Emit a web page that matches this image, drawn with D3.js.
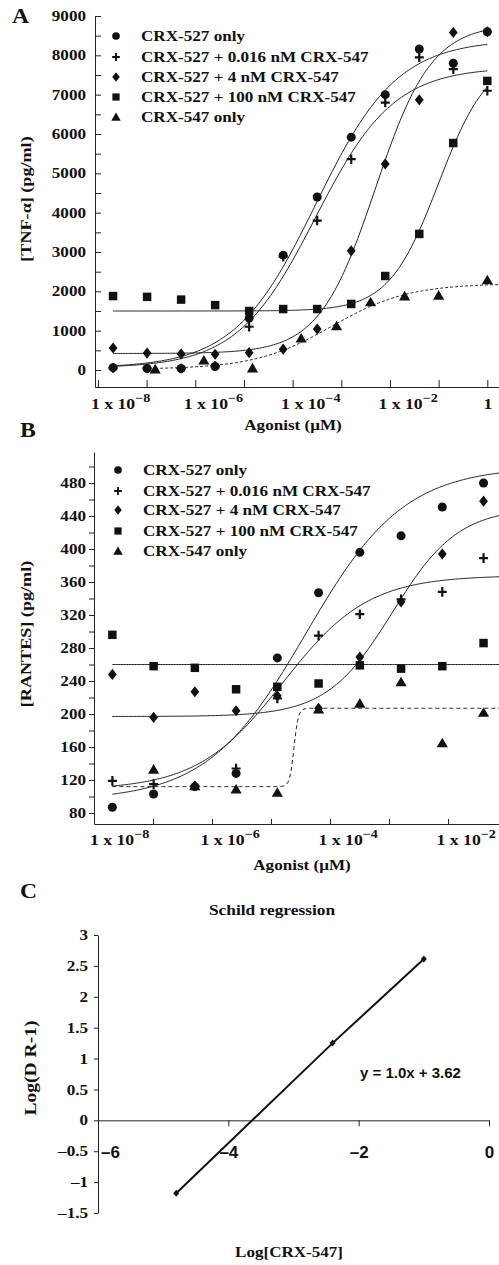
<!DOCTYPE html>
<html>
<head>
<meta charset="utf-8">
<script src="https://cdn.jsdelivr.net/npm/d3@7"></script>
<style>
  body { margin: 0; background: #fff; }
  svg { display: block; }
  text { font-family: "Liberation Serif", "Times New Roman", serif; font-weight: bold; fill: #111; }
  text.sans { font-family: "Liberation Sans", Arial, sans-serif; }
  .axis path, .axis line { stroke: #222; stroke-width: 1; }
  .fit { fill: none; stroke: #222; stroke-width: 1; }
</style>
</head>
<body>
<svg id="fig" width="499" height="1265"></svg>
<script>
// ---- shared legend ----
const legendLabels = ['CRX-527 only', 'CRX-527 + 0.016 nM CRX-547', 'CRX-527 + 4 nM CRX-547',
  'CRX-527 + 100 nM CRX-547', 'CRX-547 only'];
const markerTypes = ['circle', 'plus', 'diamond', 'square', 'triangle'];

// ---- panel A: TNF-alpha (pg/ml) vs agonist (uM) ----
const concA = [2.048e-8, 1.024e-7, 5.12e-7, 2.56e-6, 1.28e-5, 6.4e-5, 3.2e-4, 1.6e-3, 8e-3, 0.04, 0.2, 1];
const tnf527 = [60, 40, 40, 90, 1320, 2920, 4400, 5920, 7000, 8160, 7800, 8600];
const tnf016 = [50, 40, 40, 100, 1100, 2880, 3800, 5360, 6800, 7950, 7650, 7100];
const tnf4 = [560, 430, 410, 400, 440, 530, 1040, 3030, 5240, 6870, 8580, 8600];
const tnf100 = [1880, 1860, 1790, 1650, 1500, 1550, 1550, 1680, 2390, 3460, 5770, 7350];
const conc547A = [1.5e-7, 1.5e-6, 1.5e-5, 1.5e-4, 8e-4, 4e-3, 0.02, 0.1, 1];
const tnf547 = [25, 250, 50, 810, 1120, 1730, 1880, 1900, 2290];
// fitted curves as drawn: [bottom, top, logEC50, hill]
const tnfFits = [[50, 8400, -3.52, 0.52], [50, 7700, -3.53, 0.54], [420, 8800, -2.3, 0.75],
  [1500, 8000, -1.0, 0.85], [20, 2200, -3.2, 0.55]];
const tnfTicks = [0, 1000, 2000, 3000, 4000, 5000, 6000, 7000, 8000, 9000];

// ---- panel B: RANTES (pg/ml) vs agonist (uM) ----
const concB = [2.048e-8, 1.024e-7, 5.12e-7, 2.56e-6, 1.28e-5, 6.4e-5, 3.2e-4, 1.6e-3, 8e-3, 0.04];
const rantes527 = [87, 103, 112, 128, 268, 347, 396, 416, 451, 480];
const rantes016 = [119, 115, 113, 134, 219, 295, 321, 339, 348, 389];
const rantes4 = [248, 196, 227, 204, 222, 207, 269, 336, 394, 458];
const rantes100 = [296, 258, 256, 230, 233, 237, 259, 255, 258, 286];
const conc547B = [1.024e-7, 5.12e-7, 2.56e-6, 1.28e-5, 6.4e-5, 3.2e-4, 1.6e-3, 8e-3, 0.04];
const rantes547 = [133, 113, 109, 105, 206, 213, 239, 165, 202];
const rantesFits = [[95, 500, -4.41, 0.52], [108, 368, -4.8, 0.6], [197, 450, -2.94, 0.78],
  [260, 260, -4, 1], [112, 207, -4.61, 12]];
const rantesTicks = [80, 120, 160, 200, 240, 280, 320, 360, 400, 440, 480];

// ---- panel C: Schild regression ----
const schildX = [-4.8, -2.4, -1.0];
const schildY = [-1.18, 1.25, 2.61];
const schildYTicks = [-1.5, -1, -0.5, 0, 0.5, 1, 1.5, 2, 2.5, 3];
const schildXTicks = [-6, -4, -2, 0];

const SX = 1.18; // the serif lettering in the figure is set wide
const svg = d3.select('#fig');

const markerPath = {
  circle: d3.symbol(d3.symbolCircle, 64)(),
  square: d3.symbol(d3.symbolSquare, 72)(),
  diamond: 'M0,-5.6L4.4,0L0,5.6L-4.4,0Z',
  triangle: 'M0,-5.2L5.6,4.4L-5.6,4.4Z',
  plus: 'M-4.5,0H4.5M0,-4.8V4.8'
};

function marker(g, type, x, y, k) {
  return g.append('path')
    .attr('transform', `translate(${x},${y}) scale(${k || 1})`)
    .attr('d', markerPath[type])
    .attr('fill', type === 'plus' ? 'none' : '#111')
    .attr('stroke', type === 'plus' ? '#111' : 'none')
    .attr('stroke-width', 2.2);
}

function drawSeries(g, type, xs, ys, x, y) {
  xs.forEach((c, i) => marker(g, type, x(c), y(ys[i])));
}

function fitPath(x, y, p, c0, c1) {
  const [bot, top, logEC, hill] = p;
  const lo = Math.log10(c0), hi = Math.log10(c1);
  const pts = d3.range(0, 241).map(i => {
    const l = lo + (hi - lo) * i / 240;
    return [x(10 ** l), y(bot + (top - bot) / (1 + 10 ** (hill * (logEC - l))))];
  });
  return d3.line()(pts);
}

function label(txt, x, y, opts = {}) {
  const t = svg.append('text')
    .attr('transform', `translate(${x},${y})` + (opts.rot ? ` rotate(${opts.rot})` : '') +
      (opts.sans ? '' : ` scale(${opts.sx || SX},1)`))
    .attr('font-size', opts.size || 14.5)
    .attr('text-anchor', opts.anchor || 'start')
    .text(txt);
  if (opts.sans) t.attr('class', 'sans');
  return t;
}

function stretchTicks(g) {
  g.attr('font-family', null).attr('font-size', null);
  g.selectAll('text').each(function () {
    const t = d3.select(this);
    const x = +t.attr('x') || 0;
    t.attr('x', x / SX).attr('transform', `scale(${SX},1)`).attr('font-size', 14.5);
  });
}

function decadeLabels(gx, exps, axisX, baseY) {
  gx.selectAll('.tick')
    .filter(d => exps.includes(Math.round(Math.log10(d))))
    .each(function (d) {
      const e = Math.round(Math.log10(d));
      const tx = d3.select(this);
      const px = +tx.attr('transform').match(/translate\(([-\d.]+)/)[1];
      const t = tx.append('text').attr('font-size', 15).attr('fill', '#111');
      if (e === 0) {
        t.attr('text-anchor', 'middle').attr('transform', `translate(0,${baseY}) scale(${SX},1)`).text('1');
        return;
      }
      const off = Math.max(-12, axisX - 4 - px);
      t.attr('text-anchor', 'start').attr('transform', `translate(${off},${baseY}) scale(${SX},1)`);
      t.append('tspan').text('1 x 10');
      t.append('tspan').attr('dy', -7).attr('font-size', 12).text('\u2212' + Math.abs(e));
    });
}

function legend(x0, rows) {
  rows.forEach((cy, i) => {
    marker(svg, markerTypes[i], x0, cy, 0.85);
    label(legendLabels[i], x0 + 25, cy + 5);
  });
}

// =====================
// PANEL A
// =====================
const xA = d3.scaleLog().domain([10 ** -8.06, 10 ** 0.24]).range([95, 499]);
const yA = d3.scaleLinear().domain([-432, 9000]).range([387, 16]);

const gyA = svg.append('g').attr('class', 'axis').attr('transform', 'translate(95,0)')
  .call(d3.axisLeft(yA).tickValues(d3.range(0, 9001, 500)).tickSize(-6).tickSizeOuter(0).tickPadding(9)
    .tickFormat(d => tnfTicks.includes(d) ? d : ''));
stretchTicks(gyA);

const gxA = svg.append('g').attr('class', 'axis').attr('transform', 'translate(0,387)')
  .call(d3.axisBottom(xA).tickValues(d3.range(-8, 1).map(e => 10 ** e)).tickSize(-7).tickSizeOuter(0).tickFormat(''));
decadeLabels(gxA, [-8, -6, -4, -2, 0], 95, 22);

const plotA = svg.append('g');
[[concA[0], 1], [concA[0], 1], [concA[0], 1], [concA[0], 1], [conc547A[0], 10 ** 0.23]].forEach((r, i) => {
  plotA.append('path').attr('class', 'fit')
    .attr('d', fitPath(xA, yA, tnfFits[i], r[0], r[1]))
    .attr('stroke-dasharray', i === 4 ? '3,2' : null);
});
drawSeries(plotA, 'circle', concA, tnf527, xA, yA);
drawSeries(plotA, 'plus', concA, tnf016, xA, yA);
drawSeries(plotA, 'diamond', concA, tnf4, xA, yA);
drawSeries(plotA, 'square', concA, tnf100, xA, yA);
drawSeries(plotA, 'triangle', conc547A, tnf547, xA, yA);

legend(116, [36, 57, 77, 97, 117]);
label('A', 12, 23, { size: 20 });
label('[TNF-\u03b1] (pg/ml)', 31, 199, { rot: -90, anchor: 'middle', sx: 1.25 });
label('Agonist (\u03bcM)', 293, 430, { anchor: 'middle' });

// =====================
// PANEL B
// =====================
const xB = d3.scaleLog().domain([1e-8, 10 ** -1.136]).range([94, 499]);
const yB = d3.scaleLinear().domain([66.7, 517.6]).range([824, 452]);

const gyB = svg.append('g').attr('class', 'axis').attr('transform', 'translate(94,0)')
  .call(d3.axisLeft(yB).tickValues(d3.range(80, 501, 20)).tickSize(5).tickSizeOuter(0).tickPadding(3)
    .tickFormat(d => rantesTicks.includes(d) ? d : ''));
stretchTicks(gyB);

const gxB = svg.append('g').attr('class', 'axis').attr('transform', 'translate(0,824)')
  .call(d3.axisBottom(xB).tickValues(d3.range(-8, -1).map(e => 10 ** e)).tickSize(-5).tickSizeOuter(0).tickFormat(''));
decadeLabels(gxB, [-8, -6, -4, -2], 94, 21);

const plotB = svg.append('g');
rantesFits.forEach((p, i) => {
  plotB.append('path').attr('class', 'fit')
    .attr('d', fitPath(xB, yB, p, concB[0], 10 ** -1.136))
    .attr('stroke-dasharray', i === 4 ? '4,3' : null);
});
drawSeries(plotB, 'circle', concB, rantes527, xB, yB);
drawSeries(plotB, 'plus', concB, rantes016, xB, yB);
drawSeries(plotB, 'diamond', concB, rantes4, xB, yB);
drawSeries(plotB, 'square', concB, rantes100, xB, yB);
drawSeries(plotB, 'triangle', conc547B, rantes547, xB, yB);

legend(118, [470, 491, 510, 531, 551]);
label('B', 20, 437, { size: 20 });
label('[RANTES] (pg/ml)', 31, 634, { rot: -90, anchor: 'middle', sx: 1.25 });
label('Agonist (\u03bcM)', 302, 870, { anchor: 'middle' });

// =====================
// PANEL C
// =====================
const xC = d3.scaleLinear().domain([-6, 0]).range([98, 489]);
const yC = d3.scaleLinear().domain([-1.5, 3]).range([1213, 935]);

const gyC = svg.append('g').attr('class', 'axis').attr('transform', 'translate(98,0)')
  .call(d3.axisLeft(yC).tickValues(schildYTicks).tickSize(4).tickSizeOuter(0).tickPadding(6)
    .tickFormat(d => d < 0 ? '\u2013' + Math.abs(d) : String(d)));
stretchTicks(gyC);

const gxC = svg.append('g').attr('class', 'axis').attr('transform', `translate(0,${yC(0)})`)
  .call(d3.axisBottom(xC).tickValues(schildXTicks).tickSize(6).tickSizeOuter(0).tickFormat(''));
gxC.attr('font-family', null).attr('font-size', null);
gxC.selectAll('.tick').append('text')
  .attr('class', 'sans')
  .attr('font-size', 17)
  .attr('text-anchor', 'middle')
  .attr('x', d => d === -6 ? 12 : 0)
  .attr('y', 38)
  .text(d => d < 0 ? '\u2013' + Math.abs(d) : String(d));

svg.append('path')
  .attr('d', d3.line()(schildX.map((v, i) => [xC(v), yC(schildY[i])])))
  .attr('fill', 'none').attr('stroke', '#111').attr('stroke-width', 2);
schildX.forEach((v, i) => {
  svg.append('path')
    .attr('transform', `translate(${xC(v)},${yC(schildY[i])})`)
    .attr('d', 'M0,-3.5L3,0L0,3.5L-3,0Z').attr('fill', '#111');
});

label('C', 20, 898, { size: 20 });
label('Schild regression', 272, 915, { anchor: 'middle', size: 15.5, sx: 1.12 });
label('y = 1.0x + 3.62', 360, 1078, { sans: true, size: 15 });
label('Log(D R-1)', 36, 1068, { rot: -90, anchor: 'middle', size: 17, sx: 1.15 });
label('Log[CRX-547]', 289, 1257, { anchor: 'middle', size: 15.5, sx: 1.1 });
</script>
</body>
</html>
